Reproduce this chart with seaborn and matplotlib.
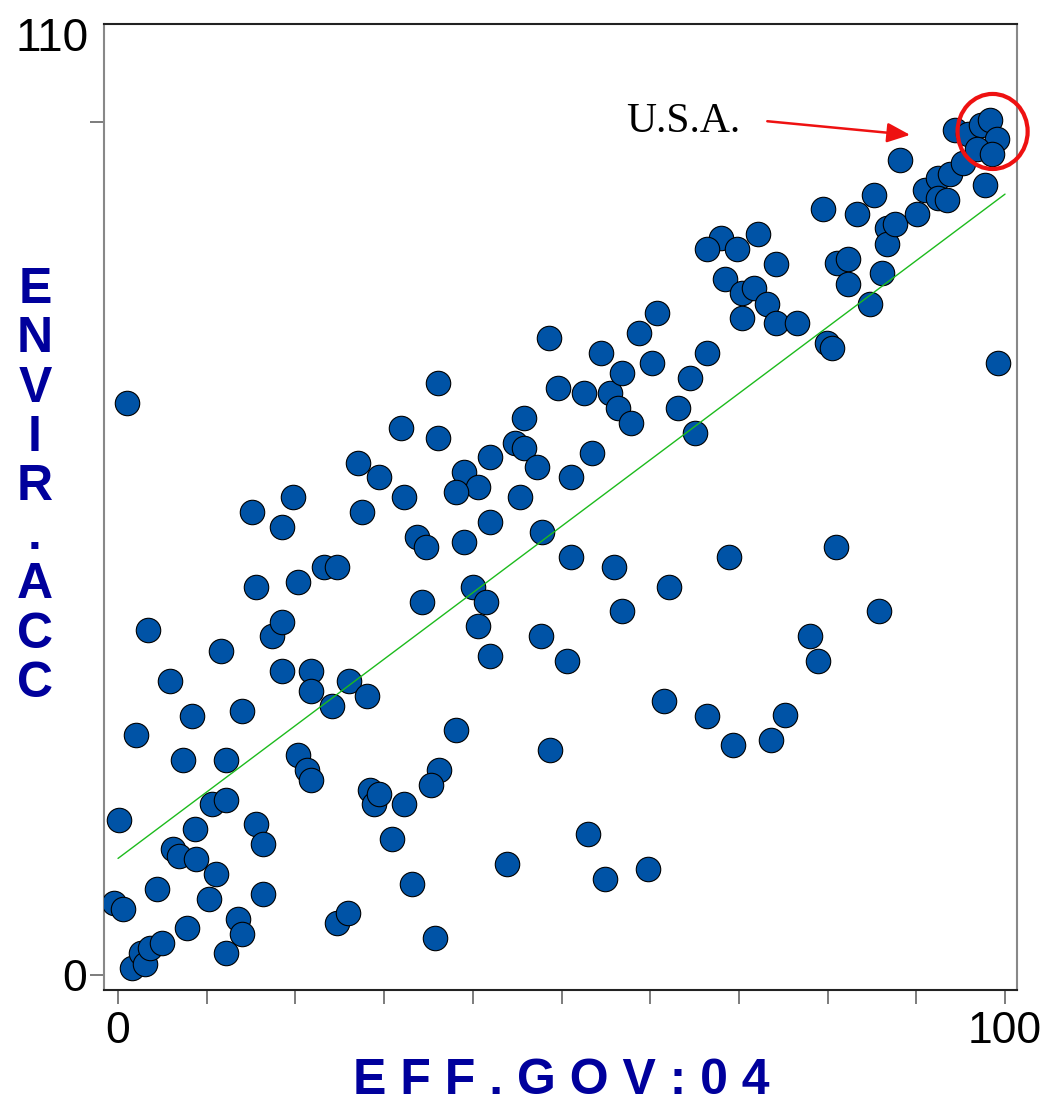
import numpy as np
import pandas as pd
import matplotlib
matplotlib.use("Agg")
import matplotlib.pyplot as plt
from matplotlib.patches import Ellipse
import seaborn as sns

# ---- data ----
eff_gov = [
    1.0, 3.4, 2.0, 0.1, -0.5, 0.6, 1.6, 2.6, 3.0, 3.6, 5.0, 4.4, 7.8, 6.2, 6.9, 8.8, 8.7,
    5.9, 8.3, 7.3, 10.3, 11.0, 10.6, 12.2, 12.2, 11.6, 14.0, 12.2, 13.5, 14.0, 15.6, 16.3,
    16.3, 15.1, 15.6, 17.4, 18.5, 18.5, 19.7, 20.3, 18.5, 20.3, 21.3, 21.8,
    21.8, 21.8, 24.1, 26.0, 28.1, 28.4, 28.9, 29.4, 32.2, 30.9, 24.7, 25.9, 27.1, 29.4,
    31.9, 32.2, 27.5, 23.2, 24.7,
    36.1, 36.1, 33.7, 34.7, 45.8, 44.8, 45.8, 47.2, 41.9, 39.0, 40.6, 38.1, 45.3, 41.9,
    39.0, 47.8, 34.3, 40.0, 41.5, 40.6, 41.9, 47.7, 50.6, 38.1, 36.2, 35.3, 33.1, 35.7,
    43.9, 48.7, 51.1, 51.1, 53.4, 48.6, 49.6, 52.5,
    53.0, 54.9, 59.8, 55.9, 56.8, 62.1, 61.6, 66.4, 54.5, 55.5, 56.4, 57.8, 56.8, 58.7,
    60.8, 60.2, 63.1, 64.5, 65.1, 66.4,
    68.9, 80.9, 85.8, 78.0, 78.9, 69.3, 75.2, 73.6, 68.0, 66.4, 69.8, 72.2, 74.2, 68.4,
    70.3, 71.7, 73.2, 70.3, 74.2, 76.5, 79.5, 81.1, 82.3, 82.3, 83.3, 84.8, 85.2, 86.1,
    86.7, 86.7, 87.6, 88.2, 90.1, 91.0, 92.4, 92.4, 93.5, 93.8, 95.3, 97.7, 79.9, 80.5,
    99.2, 94.4, 95.8, 97.3, 98.3, 99.1, 96.8, 98.5,
]
envir_acc = [
    67.1, 40.4, 28.1, 18.2, 8.4, 7.7, 0.8, 2.6, 1.3, 3.2, 3.8, 10.1, 5.5, 14.8, 14.0, 13.6, 17.1,
    34.5, 30.4, 25.2, 8.9, 11.8, 20.0, 20.5, 25.2, 38.0, 30.9, 2.6, 6.6, 4.8, 17.7, 15.4,
    9.5, 54.3, 45.5, 39.7, 41.4, 52.5, 56.0, 46.1, 35.6, 25.8, 24.0, 22.9,
    35.6, 33.3, 31.5, 34.5, 32.7, 21.7, 20.0, 21.2, 20.0, 15.9, 6.1, 7.3, 60.0, 58.4,
    64.1, 56.0, 54.3, 47.8, 47.8,
    69.4, 63.0, 51.3, 50.2, 65.3, 62.4, 61.8, 59.6, 60.7, 59.0, 57.2, 56.6, 56.0, 53.1,
    50.8, 51.9, 43.7, 45.5, 43.7, 40.9, 37.4, 39.7, 36.8, 28.7, 24.0, 22.3, 10.7, 4.3,
    13.0, 26.4, 49.0, 58.4, 61.2, 74.7, 68.8, 68.2,
    16.5, 11.3, 12.4, 47.8, 42.7, 45.5, 32.1, 30.4, 72.9, 68.2, 66.5, 64.7, 70.6, 75.3,
    77.6, 71.7, 66.5, 70.0, 63.5, 72.9,
    49.0, 50.2, 42.7, 39.7, 36.8, 27.0, 30.5, 27.5, 86.4, 85.1, 85.1, 86.9, 83.4, 81.6,
    80.0, 80.5, 78.7, 77.0, 76.4, 76.4, 89.8, 83.5, 83.9, 81.0, 89.2, 78.7, 91.4, 82.3,
    87.6, 85.7, 88.0, 95.5, 89.2, 92.0, 93.4, 91.1, 90.9, 93.9, 95.2, 92.6, 74.1, 73.5,
    71.7, 99.1, 98.6, 99.6, 100.2, 98.0, 96.8, 96.2,
]
x_ticks = [0, 10, 20, 30, 40, 50, 60, 70, 80, 90, 100]
x_tick_labels = ["0", "", "", "", "", "", "", "", "", "", "100"]
y_ticks = [0, 100]
y_tick_labels = ["0", ""]
y_top_tick = [110.3]
y_top_label = ["110"]
x_label = "E F F . G O V : 0 4"
y_label = "ENVIR.ACC"
callout = "U.S.A."
usa_x, usa_y = 98.6, 98.9

# ---- style ----
sns.set_theme(style="white")
plt.rcParams["font.family"] = ["Liberation Sans", "DejaVu Sans"]

W, H = 1044, 1102
fig = plt.figure(figsize=(W / 100, H / 100), dpi=100)
ax = fig.add_axes([104 / W, 1 - 990 / H, (1017 - 104) / W, (990 - 24) / H])

df = pd.DataFrame({"eff_gov": eff_gov, "envir_acc": envir_acc})
slope, intercept = np.polyfit(df["eff_gov"], df["envir_acc"], 1)
fit_x = np.array([0.0, 100.0])
fit = pd.DataFrame({"x": fit_x, "y": intercept + slope * fit_x})

sns.scatterplot(data=df, x="eff_gov", y="envir_acc", ax=ax, s=310,
                color="#0053A6", edgecolor="black", linewidth=0.8, zorder=3,
                legend=False)
sns.lineplot(data=fit, x="x", y="y", ax=ax, color="#1DBB1D", linewidth=1.0,
             zorder=4)

ax.set_xlim(-1.58, 101.35)
ax.set_ylim(-1.76, 111.5)

ax.set_xticks(x_ticks)
ax.set_xticklabels(x_tick_labels)
ax.set_yticks(y_ticks)
ax.set_yticklabels(y_tick_labels)
ax.set_yticks(y_top_tick, minor=True)
ax.set_yticklabels(y_top_label, minor=True)

ax.tick_params(axis="both", which="major", direction="out", length=10, width=1.2,
               color="#666666", labelsize=32, labelcolor="black")
ax.tick_params(axis="x", pad=5, bottom=True)
ax.tick_params(axis="y", which="major", pad=2, left=True)
ax.tick_params(axis="y", which="minor", length=0, pad=11, left=True,
               labelsize=33, labelcolor="black")

for side in ["left", "right"]:
    ax.spines[side].set_color("#888888")
    ax.spines[side].set_linewidth(1.5)
for side in ["top", "bottom"]:
    ax.spines[side].set_color("#222222")
    ax.spines[side].set_linewidth(1.5)

ax.set_xlabel("")
ax.set_ylabel("")

fig.text(561 / W, 1 - 1081 / H, x_label, ha="center", va="center",
         fontsize=36, fontweight="bold", color="#00009C")
fig.text(35 / W, 1 - 487 / H, "\n".join(list(y_label)), ha="center", va="center",
         fontsize=36, fontweight="bold", color="#00009C", linespacing=1.09,
         multialignment="center")

# callout
ax.add_patch(Ellipse((usa_x, usa_y), width=7.9, height=8.8, fill=False,
                     edgecolor="#EE1111", linewidth=3, clip_on=False, zorder=5))
ax.annotate("", xy=(89.3, 98.5), xytext=(73.2, 100.1),
            arrowprops=dict(arrowstyle="-|>,head_length=0.7,head_width=0.3",
                            color="#EE1111", lw=1.8, mutation_scale=20,
                            shrinkA=0, shrinkB=0))
ax.text(63.7, 100.0, callout, ha="center", va="center", fontsize=30,
        family=["Liberation Serif", "DejaVu Serif"], color="black")

fig.savefig("out.png", dpi=100)
